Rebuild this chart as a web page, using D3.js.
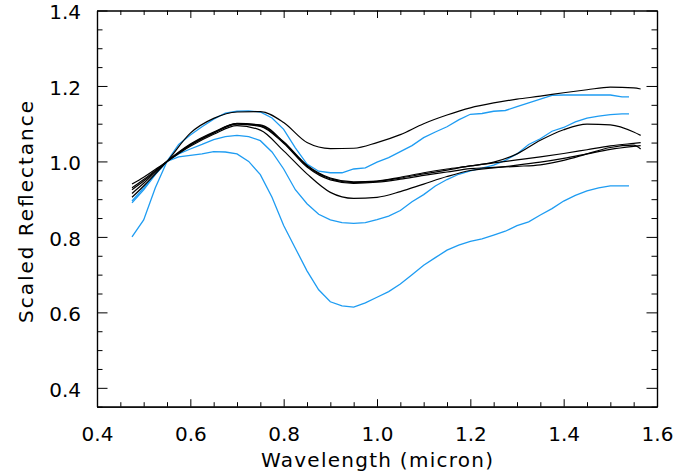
<!DOCTYPE html>
<html>
<head>
<meta charset="utf-8">
<script src="https://cdnjs.cloudflare.com/ajax/libs/d3/7.8.5/d3.min.js"></script>
<style>
  body { margin: 0; background: #fff; }
  text { font-family: "DejaVu Sans", sans-serif; fill: #000; }
</style>
</head>
<body>
<div id="chart"></div>
<script>
// wavelength grids (micron)
const wlBlack = [0.475, 0.5, 0.55, 0.6, 0.65, 0.7, 0.75, 0.8, 0.85, 0.9, 0.95, 1.0, 1.05, 1.1,
  1.15, 1.2, 1.25, 1.3, 1.35, 1.4, 1.45, 1.5, 1.55, 1.565];
const wlBlue = [0.475, 0.5, 0.525, 0.55, 0.575, 0.6, 0.625, 0.65, 0.675, 0.7, 0.725, 0.75, 0.775,
  0.8, 0.825, 0.85, 0.875, 0.9, 0.925, 0.95, 0.975, 1.0, 1.025, 1.05, 1.075, 1.1, 1.125, 1.15,
  1.175, 1.2, 1.225, 1.25, 1.275, 1.3, 1.325, 1.35, 1.375, 1.4, 1.425, 1.45, 1.475, 1.5, 1.525, 1.54];

// model spectra (black)
const black1 = [0.905, 0.935, 1.0, 1.075, 1.114, 1.131, 1.132, 1.103, 1.05, 1.034, 1.035, 1.05, 1.071, 1.1,
  1.123, 1.142, 1.155, 1.165, 1.173, 1.182, 1.19, 1.197, 1.195, 1.192];
const black2 = [0.915, 0.942, 1.0, 1.046, 1.078, 1.1, 1.097, 1.052, 0.99, 0.956, 0.946, 0.948, 0.958, 0.97,
  0.98, 0.988, 0.998, 1.02, 1.056, 1.084, 1.099, 1.097, 1.078, 1.069];
const black3 = [0.925, 0.948, 1.0, 1.044, 1.076, 1.101, 1.095, 1.05, 0.988, 0.954, 0.944, 0.947, 0.956, 0.967,
  0.977, 0.988, 0.996, 1.004, 1.012, 1.021, 1.031, 1.041, 1.048, 1.05];
const black4 = [0.93, 0.952, 1.0, 1.043, 1.075, 1.099, 1.093, 1.048, 0.985, 0.951, 0.942, 0.945, 0.953, 0.963,
  0.972, 0.981, 0.984, 0.987, 0.991, 1.003, 1.02, 1.037, 1.043, 1.033];
const black5 = [0.94, 0.958, 1.0, 1.04, 1.072, 1.095, 1.083, 1.028, 0.967, 0.918, 0.902, 0.905, 0.92, 0.94,
  0.96, 0.976, 0.983, 0.99, 0.998, 1.008, 1.02, 1.032, 1.04, 1.042];

// measured spectra (blue)
const blue1 = [0.89, 0.925, 0.965, 1.0, 1.045, 1.07, 1.092, 1.112, 1.128, 1.133, 1.134, 1.131, 1.115, 1.085,
  1.036, 0.993, 0.974, 0.97, 0.97, 0.98, 0.983, 0.998, 1.01, 1.026, 1.042, 1.063, 1.078, 1.092, 1.11, 1.125,
  1.127, 1.133, 1.135, 1.145, 1.155, 1.165, 1.175, 1.176, 1.176, 1.176, 1.176, 1.176, 1.171, 1.171];
const blue2 = [0.895, 0.93, 0.967, 1.0, 1.02, 1.033, 1.045, 1.058, 1.066, 1.069, 1.066, 1.055, 1.025, 0.98,
  0.925, 0.888, 0.86, 0.845, 0.838, 0.836, 0.838, 0.846, 0.855, 0.87, 0.893, 0.912, 0.935, 0.952, 0.966, 0.975,
  0.982, 0.99, 1.003, 1.02, 1.045, 1.06, 1.08, 1.09, 1.105, 1.115, 1.12, 1.124, 1.126, 1.126];
const blue3 = [0.80, 0.845, 0.93, 1.0, 1.012, 1.016, 1.02, 1.026, 1.025, 1.02, 1.0, 0.965, 0.905, 0.83,
  0.77, 0.71, 0.66, 0.628, 0.617, 0.614, 0.625, 0.64, 0.655, 0.675, 0.7, 0.725, 0.745, 0.765, 0.778, 0.788,
  0.795, 0.805, 0.815, 0.83, 0.84, 0.858, 0.875, 0.895, 0.91, 0.922, 0.93, 0.935, 0.935, 0.935];

const xTicks = [0.4, 0.6, 0.8, 1.0, 1.2, 1.4, 1.6];
const yTicks = [0.4, 0.6, 0.8, 1.0, 1.2, 1.4];

const width = 690;
const height = 475;

const x = d3.scaleLinear().domain([0.4, 1.6]).range([97, 657]);
const y = d3.scaleLinear().domain([0.35, 1.4]).range([406.7, 10.5]);

const svg = d3.select("#chart")
  .append("svg")
  .attr("width", width)
  .attr("height", height);

const fmt = d3.format(".1f");
const xMinor = d3.range(0.45, 1.6, 0.05).filter(v => Math.abs(v * 5 - Math.round(v * 5)) > 0.01);
const yMinor = d3.range(0.35, 1.4, 0.05).filter(v => Math.abs(v * 5 - Math.round(v * 5)) > 0.01);

// axes with inward ticks on all four sides (IDL look)
function styleAxis(g) {
  g.select(".domain").attr("stroke", "#000").attr("stroke-width", 1.2);
  g.selectAll(".tick line").attr("stroke", "#000").attr("stroke-width", 1);
  g.selectAll(".tick text").style("font-size", "20px").attr("fill", "#000");
}

svg.append("g")
  .attr("transform", `translate(0,${y.range()[0]})`)
  .call(d3.axisBottom(x).tickValues(xTicks).tickFormat(fmt).tickSize(-7.5).tickPadding(20).tickSizeOuter(0))
  .call(styleAxis);
svg.append("g")
  .attr("transform", `translate(0,${y.range()[0]})`)
  .call(d3.axisBottom(x).tickValues(xMinor).tickFormat("").tickSize(-4.5).tickSizeOuter(0))
  .call(styleAxis);
svg.append("g")
  .attr("transform", `translate(0,${y.range()[1]})`)
  .call(d3.axisTop(x).tickValues(xTicks).tickFormat("").tickSize(-7.5).tickSizeOuter(0))
  .call(styleAxis);
svg.append("g")
  .attr("transform", `translate(0,${y.range()[1]})`)
  .call(d3.axisTop(x).tickValues(xMinor).tickFormat("").tickSize(-4.5).tickSizeOuter(0))
  .call(styleAxis);

svg.append("g")
  .attr("transform", `translate(${x.range()[0]},0)`)
  .call(d3.axisLeft(y).tickValues(yTicks).tickFormat(fmt).tickSize(-10.5).tickPadding(16).tickSizeOuter(0))
  .call(styleAxis)
  .selectAll(".tick text").attr("dy", "0.42em");
svg.append("g")
  .attr("transform", `translate(${x.range()[0]},0)`)
  .call(d3.axisLeft(y).tickValues(yMinor).tickFormat("").tickSize(-5.5).tickSizeOuter(0))
  .call(styleAxis);
svg.append("g")
  .attr("transform", `translate(${x.range()[1]},0)`)
  .call(d3.axisRight(y).tickValues(yTicks).tickFormat("").tickSize(-10.5).tickSizeOuter(0))
  .call(styleAxis);
svg.append("g")
  .attr("transform", `translate(${x.range()[1]},0)`)
  .call(d3.axisRight(y).tickValues(yMinor).tickFormat("").tickSize(-5.5).tickSizeOuter(0))
  .call(styleAxis);

// curves
const smoothLine = d3.line().x(d => x(d[0])).y(d => y(d[1])).curve(d3.curveMonotoneX);
const rawLine = d3.line().x(d => x(d[0])).y(d => y(d[1]));

[blue1, blue2, blue3].forEach(s => {
  svg.append("path")
    .datum(d3.zip(wlBlue, s))
    .attr("d", rawLine)
    .attr("fill", "none")
    .attr("stroke", "#1e9cf2")
    .attr("stroke-width", 1.3);
});

[black1, black2, black3, black4, black5].forEach(s => {
  svg.append("path")
    .datum(d3.zip(wlBlack, s))
    .attr("d", smoothLine)
    .attr("fill", "none")
    .attr("stroke", "#000")
    .attr("stroke-width", 1.2);
});

// axis titles (the original font runs wider, so stretch the spacing)
svg.append("text")
  .attr("x", 377)
  .attr("y", 467)
  .attr("text-anchor", "middle")
  .attr("textLength", 232)
  .attr("lengthAdjust", "spacing")
  .style("font-size", "20px")
  .text("Wavelength (micron)");

svg.append("text")
  .attr("transform", "translate(33,212) rotate(-90)")
  .attr("text-anchor", "middle")
  .attr("textLength", 222)
  .attr("lengthAdjust", "spacing")
  .style("font-size", "20px")
  .text("Scaled Reflectance");
</script>
</body>
</html>
